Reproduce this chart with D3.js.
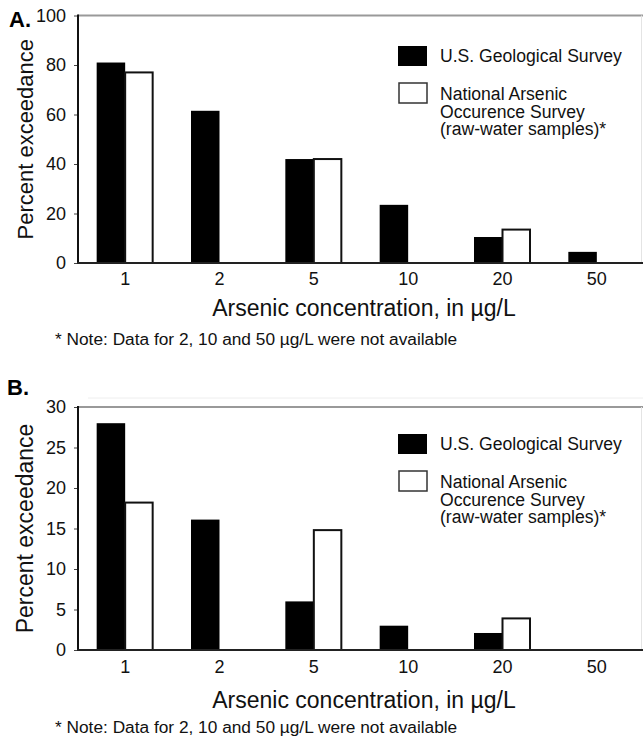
<!DOCTYPE html>
<html><head><meta charset="utf-8">
<script src="https://cdn.jsdelivr.net/npm/d3@7"></script>
<style>
html,body{margin:0;padding:0;background:#fff;}
svg{display:block;font-family:"Liberation Sans",Arial,Helvetica,sans-serif;}
</style></head>
<body><svg id="c" width="643" height="740"></svg>
<script>
const categories = ["1","2","5","10","20","50"];
const seriesNames = ["U.S. Geological Survey","National Arsenic Occurence Survey (raw-water samples)*"];
const legendLines = [["U.S. Geological Survey"],["National Arsenic","Occurence Survey","(raw-water samples)*"]];
const usgsA = [81, 61.5, 42, 23.5, 10.5, 4.5];
const nasA  = [77, null, 42, null, 13.5, null];
const usgsB = [28, 16.1, 6, 3, 2.1, null];
const nasB  = [18.2, null, 14.8, null, 3.9, null];
const yTicksA = [0,20,40,60,80,100];
const yTicksB = [0,5,10,15,20,25,30];
const xTitle = "Arsenic concentration, in \u00b5g/L";
const yTitle = "Percent exceedance";
const note = "* Note: Data for 2, 10 and 50 \u00b5g/L were not available";

const svg = d3.select("#c");

function panel(cfg){
  const g = svg.append("g");
  const L = 78, R = 644;
  const x0 = d3.scaleBand().domain(categories).range([L, R]);
  const x1 = d3.scaleBand().domain(["usgs","nas"]).range([0, x0.bandwidth()]).paddingOuter(0.655);
  const y = d3.scaleLinear().domain([0, cfg.max]).range([cfg.bottom, cfg.top]);

  if (cfg.faint) g.append("line").attr("x1",88).attr("x2",643).attr("y1",cfg.faint).attr("y2",cfg.faint).attr("stroke","#eee").attr("stroke-width",1);
  g.append("line").attr("x1",L).attr("x2",643).attr("y1",cfg.top).attr("y2",cfg.top).attr("stroke","#999").attr("stroke-width",2);
  g.append("line").attr("x1",641.5).attr("x2",641.5).attr("y1",cfg.top).attr("y2",cfg.bottom).attr("stroke","#e4e4e4").attr("stroke-width",1);

  const data = categories.map((c,i)=>({c, a:cfg.a[i], b:cfg.b[i]}));
  g.selectAll("rect.usgs").data(data.filter(d=>d.a!=null)).join("rect")
    .attr("x", d=>x0(d.c)+x1("usgs")).attr("width", x1.bandwidth())
    .attr("y", d=>y(d.a)).attr("height", d=>cfg.bottom - y(d.a))
    .attr("fill","#000");
  g.selectAll("rect.nas").data(data.filter(d=>d.b!=null)).join("rect")
    .attr("x", d=>x0(d.c)+x1("nas")).attr("width", x1.bandwidth()-1)
    .attr("y", d=>y(d.b)).attr("height", d=>cfg.bottom - y(d.b))
    .attr("fill","#fff").attr("stroke","#111").attr("stroke-width",2);

  const ya = g.append("g").attr("transform",`translate(${L},0)`)
    .call(d3.axisLeft(y).tickValues(cfg.ticks).tickSize(4).tickPadding(8).tickFormat(d3.format("d")));
  ya.select(".domain").remove();
  ya.selectAll(".tick line").attr("stroke","#444").attr("stroke-width",1);
  ya.selectAll(".tick text").attr("font-size",18).attr("fill","#111").style("font-family","inherit");
  g.append("line").attr("x1",L).attr("x2",L).attr("y1",cfg.top-1).attr("y2",cfg.bottom+1).attr("stroke","#111").attr("stroke-width",2);

  const xa = g.append("g").attr("transform",`translate(0,${cfg.bottom})`)
    .call(d3.axisBottom(x0).tickSize(0).tickPadding(cfg.xpad));
  xa.select(".domain").remove();
  xa.selectAll(".tick text").attr("font-size",18).attr("fill","#111").style("font-family","inherit");
  g.append("line").attr("x1",L-1).attr("x2",643).attr("y1",cfg.bottom).attr("y2",cfg.bottom).attr("stroke","#222").attr("stroke-width",2);

  g.append("text").attr("x",364).attr("y",cfg.xTitleY).attr("text-anchor","middle").attr("font-size",23).attr("fill","#111").text(xTitle);
  g.append("text").attr("transform",`translate(33,${(cfg.top+cfg.bottom)/2 + cfg.yTitleShift}) rotate(-90)`).attr("text-anchor","middle").attr("font-size",cfg.yTitleSize).attr("fill","#111").text(yTitle);
  g.append("text").attr("x",55).attr("y",cfg.noteY).attr("font-size",17.3).attr("fill","#111").text(note);
  g.append("text").attr("x",cfg.labelX).attr("y",cfg.labelY).attr("font-size",22).attr("font-weight","bold").attr("fill","#000").text(cfg.label);

  const lg = g.append("g");
  lg.append("rect").attr("x",398).attr("y",cfg.legY).attr("width",29).attr("height",20).attr("fill","#000");
  lg.append("text").attr("x",440).attr("y",cfg.legY+16).attr("font-size",17.6).attr("fill","#111").text(legendLines[0][0]);
  lg.append("rect").attr("x",399).attr("y",cfg.legY+37).attr("width",28).attr("height",20).attr("fill","#fff").attr("stroke","#333").attr("stroke-width",1.5);
  lg.append("text").attr("x",440).attr("y",cfg.legY+54).attr("font-size",17.6).attr("fill","#111")
    .selectAll("tspan").data(legendLines[1]).join("tspan").attr("x",440).attr("dy",(d,i)=>i?17.5:0).text(d=>d);
}

panel({a:usgsA, b:nasA, max:100, ticks:yTicksA, top:15.5, bottom:263, xpad:9, xTitleY:316, noteY:345,
  label:"A.", labelX:9, labelY:27, legY:46, yTitleSize:22, yTitleShift:0});
panel({a:usgsB, b:nasB, max:30, ticks:yTicksB, top:407, bottom:650, xpad:10, xTitleY:708, noteY:733,
  label:"B.", labelX:7, labelY:395, legY:434, yTitleSize:23, yTitleShift:0, faint:398});
</script></body></html>
